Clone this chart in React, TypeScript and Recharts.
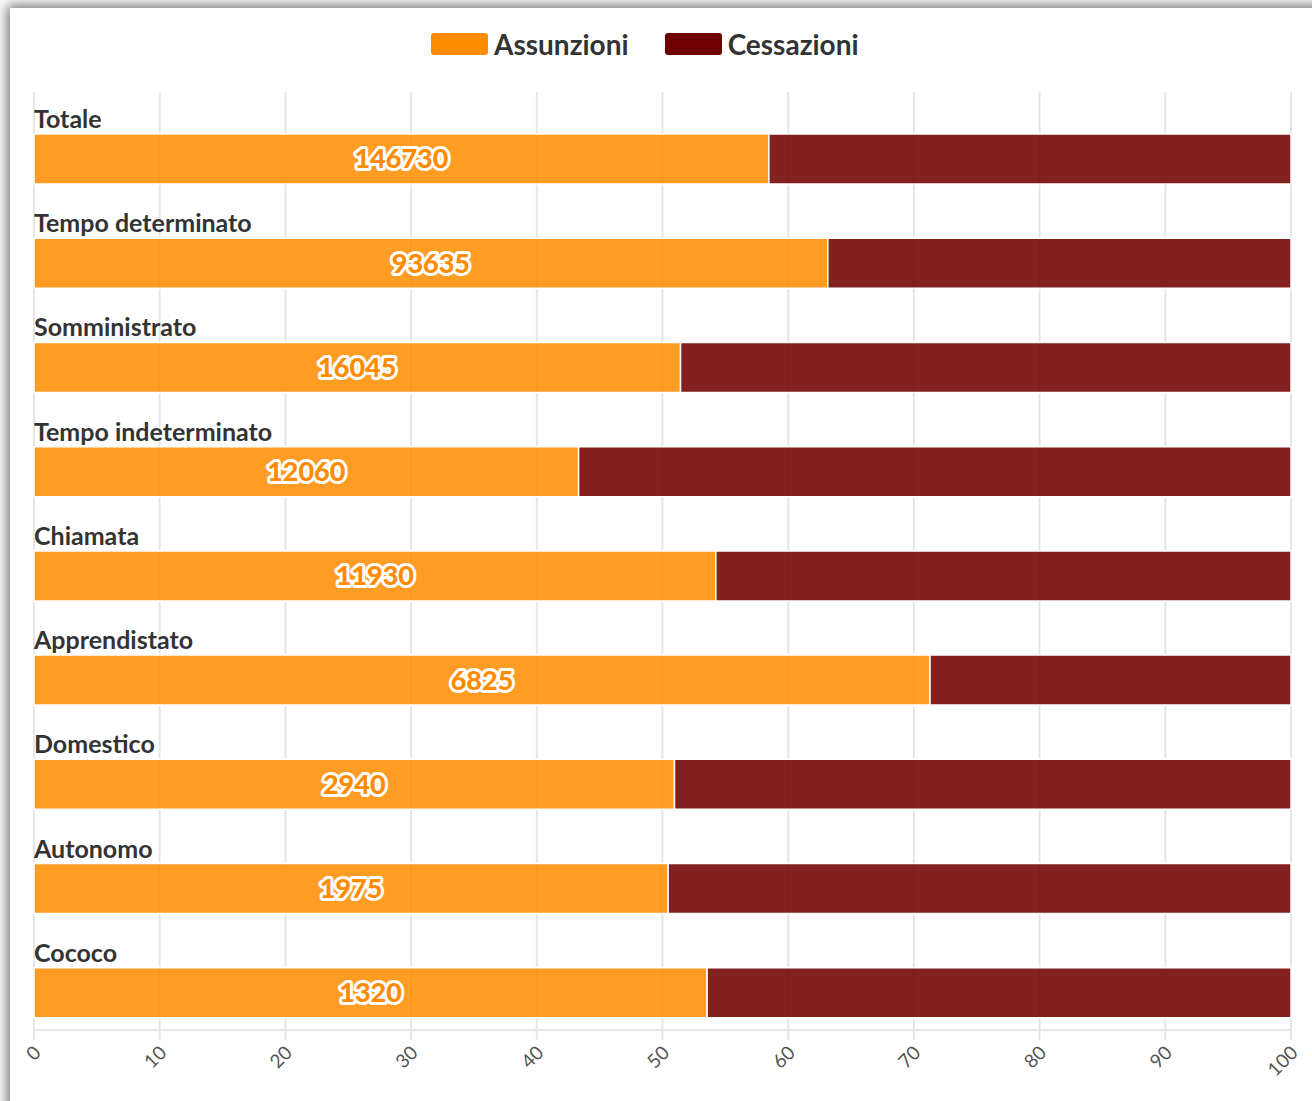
import React from 'react'
import {
  Bar,
  BarChart,
  CartesianGrid,
  LabelList,
  Rectangle,
  XAxis,
  YAxis,
} from 'recharts'

const categories = [
  'Totale',
  'Tempo determinato',
  'Somministrato',
  'Tempo indeterminato',
  'Chiamata',
  'Apprendistato',
  'Domestico',
  'Autonomo',
  'Cococo',
]
const assunzioni = [146730, 93635, 16045, 12060, 11930, 6825, 2940, 1975, 1320]
const cessazioni = [104260, 54640, 15150, 15775, 10065, 2750, 2830, 1940, 1145]
const xTicks = [0, 0.1, 0.2, 0.3, 0.4, 0.5, 0.6, 0.7, 0.8, 0.9, 1]

const data = categories.map((name, i) => ({
  name,
  assunzioni: assunzioni[i],
  cessazioni: cessazioni[i],
}))

const ORANGE = '#ff8c00'
const RED = '#700000'
const FONT = 'Lato, "Noto Sans", sans-serif'
const BAR_SHIFT = 15

const ShiftedBar = (props: any) => <Rectangle {...props} y={props.y + BAR_SHIFT} />

// category name sits above the bar, left aligned with the plot
const CategoryLabel = ({ x, y, value }: any) => (
  <text
    x={x}
    y={y + BAR_SHIFT - 6}
    fill="#333"
    fontSize={25}
    fontWeight={700}
    fontFamily={FONT}
    textAnchor="start"
  >
    {value}
  </text>
)

const PercentTick = ({ x, y, payload }: any) => (
  <text
    x={x + 8}
    y={y + 12}
    fill="#555"
    fontSize={19}
    fontFamily={FONT}
    textAnchor="end"
    transform={`rotate(-45, ${x + 8}, ${y + 12})`}
  >
    {Math.round(payload.value * 100)}
  </text>
)

const ValueLabel = ({ x, y, width, height, value }: any) => (
  <text
    x={x + width / 2}
    y={y + height / 2 + BAR_SHIFT}
    dy="0.35em"
    fill={ORANGE}
    stroke="#fff"
    strokeWidth={6}
    strokeLinejoin="round"
    style={{ paintOrder: 'stroke' }}
    fontSize={27}
    fontWeight={900}
    fontFamily={FONT}
    textAnchor="middle"
  >
    {value}
  </text>
)

const legendItems = [
  { label: 'Assunzioni', color: ORANGE },
  { label: 'Cessazioni', color: RED },
]

export default function App() {
  return (
    <div
      style={{
        position: 'absolute',
        top: 0,
        left: 0,
        width: 1312,
        height: 1101,
        overflow: 'hidden',
        background: '#fff',
      }}
    >
      <div
        style={{
          position: 'absolute',
          left: 10,
          top: 8,
          width: 1340,
          height: 1140,
          background: '#fff',
          boxShadow: '0 0 12px 3px rgba(0,0,0,0.55)',
        }}
      />
      <div
        style={{
          position: 'absolute',
          top: 27,
          left: 431,
          display: 'flex',
          alignItems: 'center',
          fontFamily: FONT,
          fontWeight: 700,
          fontSize: 28,
          color: '#333',
        }}
      >
        {legendItems.map((it, i) => (
          <div
            key={it.label}
            style={{ display: 'flex', alignItems: 'center', marginRight: i === 0 ? 36 : 0 }}
          >
            <span
              style={{
                display: 'inline-block',
                width: 57,
                height: 22,
                borderRadius: 3,
                background: it.color,
                marginRight: 6,
              }}
            />
            {it.label}
          </div>
        ))}
      </div>
      <div style={{ position: 'absolute', top: 0, left: 0 }}>
        <BarChart
          width={1312}
          height={1101}
          data={data}
          layout="vertical"
          stackOffset="expand"
          barSize={50}
          margin={{ top: 92, right: 21, bottom: 11, left: 34 }}
        >
          <CartesianGrid horizontal={false} stroke="#e6e6e6" strokeWidth={2} />
          <XAxis
            type="number"
            domain={[0, 1]}
            ticks={xTicks}
            height={60}
            interval={0}
            axisLine={{ stroke: '#e6e6e6', strokeWidth: 2 }}
            tickLine={{ stroke: '#e6e6e6', strokeWidth: 2 }}
            tickSize={10}
            tick={<PercentTick />}
          />
          <YAxis type="category" dataKey="name" width={0} hide />
          <Bar
            dataKey="assunzioni"
            stackId="a"
            fill={ORANGE}
            fillOpacity={0.86}
            stroke="#fff"
            strokeWidth={1.5}
            shape={ShiftedBar}
            isAnimationActive={false}
          >
            <LabelList dataKey="name" content={<CategoryLabel />} />
            <LabelList dataKey="assunzioni" content={<ValueLabel />} />
          </Bar>
          <Bar
            dataKey="cessazioni"
            stackId="a"
            fill={RED}
            fillOpacity={0.87}
            stroke="#fff"
            strokeWidth={1.5}
            shape={ShiftedBar}
            isAnimationActive={false}
          />
        </BarChart>
      </div>
    </div>
  )
}
